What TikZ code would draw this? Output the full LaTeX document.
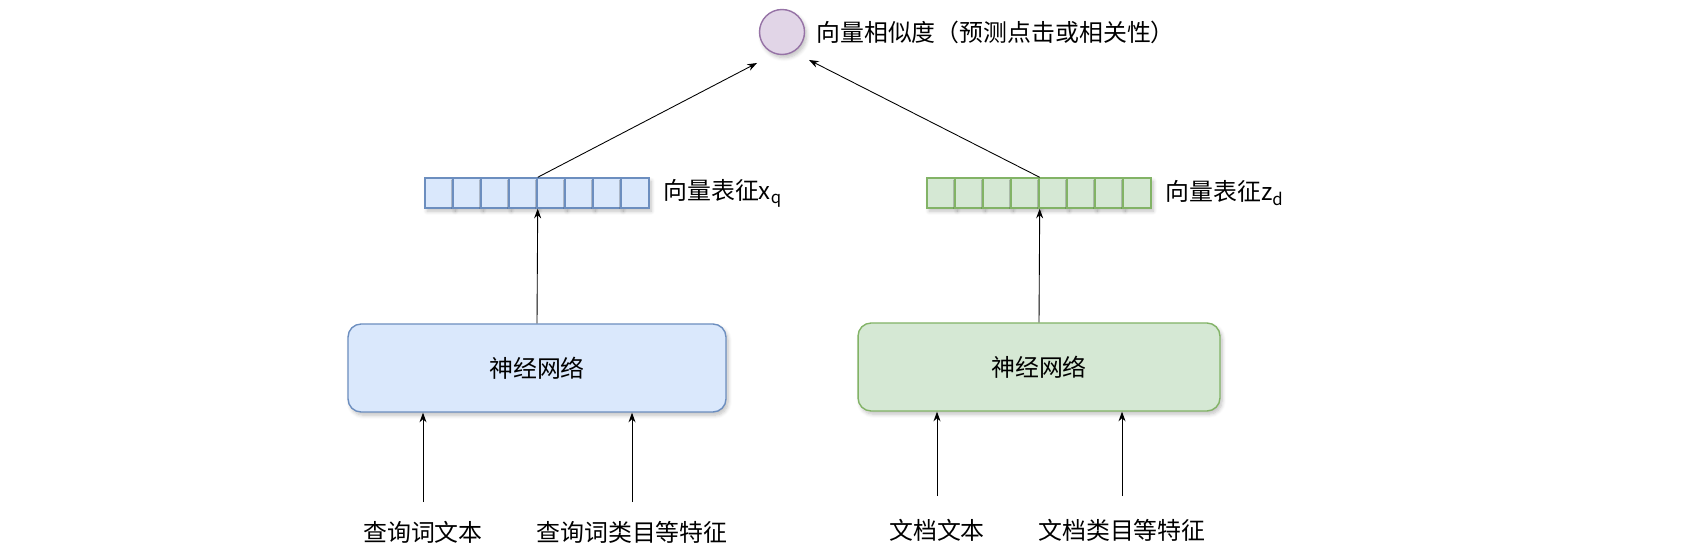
\documentclass[tikz,border=0pt]{standalone}
\usepackage{fontspec}
\setmainfont{Noto Sans CJK SC}
\usetikzlibrary{positioning, calc, arrows.meta, shadows.blur}
\definecolor{qfill}{HTML}{DAE8FC}
\definecolor{qline}{HTML}{6C8EBF}
\definecolor{dfill}{HTML}{D5E8D4}
\definecolor{dline}{HTML}{82B366}
\definecolor{sfill}{HTML}{E1D5E7}
\definecolor{sline}{HTML}{9673A6}

\begin{document}
\begin{tikzpicture}[x=0.02cm, y=0.02cm, font=\fontsize{13.6}{16}\selectfont, shade/.style={blur shadow={shadow blur steps=6, shadow xshift=1.2pt, shadow yshift=-1.8pt, shadow opacity=25}}, net/.style={rectangle, rounded corners=0.26cm, draw, line width=0.8pt, minimum height=1.76cm, shade}, cell/.style={rectangle, draw, line width=0.8pt, minimum width=0.56cm, minimum height=0.6cm, inner sep=0pt, shade}, arr/.style={-{Stealth[length=5.5pt, width=4pt]}, black, line width=0.5pt}]
\useasboundingbox (0,0) rectangle (1692,-550);
\node (sim) [circle, draw=sline, fill=sfill, line width=0.8pt, minimum size=0.9cm, inner sep=0pt, shade] at (782,-32) {};
\node (simlbl) [right=1mm of sim] {向量相似度（预测点击或相关性）};
\foreach \i in {1,...,8} \node (q\i) [cell, draw=qline, fill=qfill] at (411+28*\i,-193) {};
\foreach \i in {1,...,8} \node (d\i) [cell, draw=dline, fill=dfill] at (913+28*\i,-193) {};
\node (qlbl) [right=1.5mm of q8] {向量表征x\textsubscript{q}};
\node (dlbl) [right=1.5mm of d8] {向量表征z\textsubscript{d}};
\node (nnq) [net, draw=qline, fill=qfill, minimum width=7.56cm] at (537,-368) {神经网络};
\node (nnd) [net, draw=dline, fill=dfill, minimum width=7.24cm] at (1039,-367) {神经网络};
\node (t1) at (423,-532) {查询词文本};
\node (t2) at (632,-532) {查询词类目等特征};
\node (t3) at (937,-530) {文档文本};
\node (t4) at (1122,-530) {文档类目等特征};
\coordinate (qin) at ($(sim)+(-25,-31)$);
\coordinate (din) at ($(sim)+(27,-28)$);
  \begin{scope}
    \draw [arr] (q4.north east) -- (qin);
    \draw [arr] (d4.north east) -- (din);
    \draw [arr] (nnq.north) -- (q4.south east);
    \draw [arr] (nnd.north) -- (d4.south east);
    \draw [arr] ($(t1)+(0,30)$) -- (t1 |- nnq.south);
    \draw [arr] ($(t2)+(0,30)$) -- (t2 |- nnq.south);
    \draw [arr] ($(t3)+(0,34)$) -- (t3 |- nnd.south);
    \draw [arr] ($(t4)+(0,34)$) -- (t4 |- nnd.south);
  \end{scope}
\end{tikzpicture}
\end{document}
